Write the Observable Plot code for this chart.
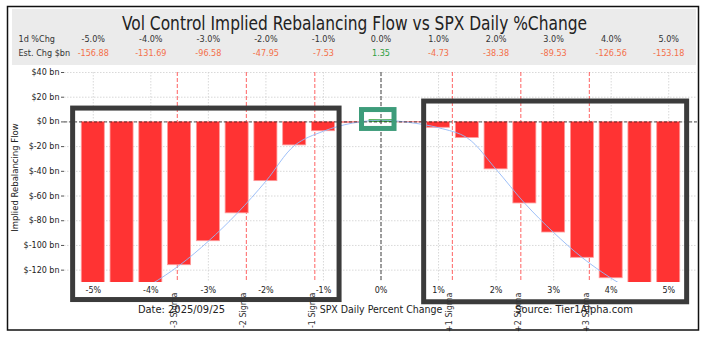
<!DOCTYPE html>
<html><head><meta charset="utf-8">
<script src="https://cdn.jsdelivr.net/npm/d3@7"></script>
<script src="https://cdn.jsdelivr.net/npm/@observablehq/plot@0.6"></script>
<style>body{margin:0;background:#fff}</style>
</head><body><div id="chart"></div>
<script>
// ---- data ----
const pctChange = [-5,-4.5,-4,-3.5,-3,-2.5,-2,-1.5,-1,-0.5,0,0.5,1,1.5,2,2.5,3,3.5,4,4.5,5];
const flowBn    = [-156.88,-145,-131.69,-116,-96.58,-74,-47.95,-19,-7.53,-1,1.35,-0.5,-4.73,-13,-38.38,-66,-89.53,-110,-126.56,-140,-153.18];
const headerPct = [-5,-4,-3,-2,-1,0,1,2,3,4,5];
const headerPctLabels = ["-5.0%","-4.0%","-3.0%","-2.0%","-1.0%","0.0%","1.0%","2.0%","3.0%","4.0%","5.0%"];
const headerFlow = [-156.88,-131.69,-96.58,-47.95,-7.53,1.35,-4.73,-38.38,-89.53,-126.56,-153.18];
const sigmaPos = [-3.54,-2.34,-1.15,1.24,2.43,3.62];
const sigmaLabels = ["-3 Sigma","-2 Sigma","-1 Sigma","+1 Sigma","+2 Sigma","+3 Sigma"];
const yTicks = [40,20,0,-20,-40,-60,-80,-100,-120];
const xTicks = [-5,-4,-3,-2,-1,0,1,2,3,4,5];
const highlightBoxes = [
  {x1:-5.35, x2:-0.72, y1:10.8, y2:-144.2},
  {x1:0.75,  x2:5.32,  y1:16.5, y2:-146}
];
const focusBox = [{x1:-0.33, x2:0.235, y1:9.6, y2:-5.7}];
const titleText = "Vol Control Implied Rebalancing Flow vs SPX Daily %Change";
const dateText = "Date: 2025/09/25";
const sourceText = "Source: Tier1Alpha.com";
const xLabel = "SPX Daily Percent Change";
const yLabel = "Implied Rebalancing Flow";

const data = pctChange.map((x, i) => ({x, y: flowBn[i]}));
const sq = "'DejaVu Sans Condensed', 'DejaVu Sans', sans-serif";

const plot = Plot.plot({
  width: 703, height: 337,
  marginTop: 72, marginBottom: 55, marginLeft: 64, marginRight: 6,
  style: {background: "transparent", fontFamily: "DejaVu Sans", fontSize: "8px", color: "#222", overflow: "visible"},
  x: {domain: [-5.5, 5.5], axis: null},
  y: {domain: [-130, 40], axis: null},
  marks: [
    Plot.ruleY(yTicks, {stroke: "#cfcfcf", strokeDasharray: "1.5,1.5", strokeWidth: 0.8}),
    Plot.ruleX(xTicks, {stroke: "#cfcfcf", strokeDasharray: "1.5,1.5", strokeWidth: 0.8}),
    Plot.ruleX(sigmaPos, {stroke: "#ff3b3b", strokeOpacity: 0.8, strokeDasharray: "4,2", strokeWidth: 1}),
    Plot.rectY(data, {x1: d => d.x - 0.2, x2: d => d.x + 0.2, y1: 0, y2: "y",
      fill: d => d.y >= 0 ? "#2ca02c" : "#ff3333",
      stroke: d => d.y >= 0 ? "#2ca02c" : "#ff9a9a", strokeWidth: 0.8, clip: true}),
    Plot.line(data, {x: "x", y: "y", stroke: "#93b9f7", strokeWidth: 0.9, curve: "catmull-rom", clip: true}),
    Plot.ruleY([0], {stroke: "#222", strokeDasharray: "3,2", strokeWidth: 0.8}),
    Plot.ruleX([0], {stroke: "#444", strokeDasharray: "4,2", strokeWidth: 1}),
    Plot.rect(highlightBoxes, {x1: "x1", x2: "x2", y1: "y1", y2: "y2", fill: "none", stroke: "#3b3b3b", strokeWidth: 5}),
    Plot.rect(focusBox, {x1: "x1", x2: "x2", y1: "y1", y2: "y2", fill: "none", stroke: "#3d9c7a", strokeWidth: 5}),
    Plot.axisY(yTicks, {tickFormat: d => `$${d} bn`, tickSize: 3, tickPadding: 2, label: null, fontSize: 8, stroke: "#555"}),
    Plot.axisX(xTicks, {tickFormat: d => `${d}%`, tickSize: 0, tickPadding: 5, label: null, fontSize: 8}),
    Plot.text([yLabel], {frameAnchor: "left", rotate: -90, textAnchor: "middle", dx: -49, fontSize: 8.5, fill: "#222"}),
    Plot.text(sigmaPos, {x: d => d, text: sigmaLabels, frameAnchor: "bottom", rotate: -90,
      textAnchor: "end", lineAnchor: "bottom", dy: 10, dx: 0, fontSize: 8, fill: "#333"}),
    // header table
    Plot.text([titleText], {frameAnchor: "top", dx: -26.5, dy: -49, lineAnchor: "middle", fontSize: 19, fill: "#222", fontFamily: sq, className: "ttl"}),
    Plot.text(["1d %Chg"], {frameAnchor: "top-left", dx: -46, dy: -33.5, textAnchor: "start", lineAnchor: "middle", fontSize: 9, fill: "#333", fontFamily: sq}),
    Plot.text(["Est. Chg $bn"], {frameAnchor: "top-left", dx: -46, dy: -19, textAnchor: "start", lineAnchor: "middle", fontSize: 9, fill: "#333", fontFamily: sq}),
    Plot.text(headerPct, {x: d => d, text: headerPctLabels, frameAnchor: "top", dy: -33.5, lineAnchor: "middle", fontSize: 9, fill: "#333", fontFamily: sq}),
    Plot.text(headerPct, {x: d => d, text: headerFlow.map(v => v.toFixed(2)), frameAnchor: "top", dy: -19, lineAnchor: "middle", fontSize: 9,
      fill: headerFlow.map(v => v >= 0 ? "#2e9e3e" : "#f4704a"), fontFamily: sq}),
    // footer
    Plot.text([dateText], {frameAnchor: "bottom", dx: -199.5, dy: 27, lineAnchor: "middle", fontSize: 11, fill: "#222", fontFamily: sq}),
    Plot.text([xLabel], {frameAnchor: "bottom", dx: 0, dy: 27, lineAnchor: "middle", fontSize: 10.5, fill: "#222", fontFamily: sq}),
    Plot.text([sourceText], {frameAnchor: "bottom", dx: 193, dy: 27, lineAnchor: "middle", fontSize: 11, fill: "#222", fontFamily: sq})
  ]
});

document.getElementById("chart").appendChild(plot);
const svg = d3.select(plot);
svg.insert("rect", ":first-child").attr("x", 12).attr("y", 9).attr("width", 684).attr("height", 56).attr("fill", "#ebebeb");
svg.insert("rect", ":first-child").attr("x", 0).attr("y", 0).attr("width", 703).attr("height", 337).attr("fill", "#fff");
svg.append("rect").attr("x", 7.5).attr("y", 6.5).attr("width", 691).attr("height", 323.5).attr("fill", "none").attr("stroke", "#111").attr("stroke-width", 1.5);
svg.selectAll(".ttl text").attr("textLength", 465).attr("lengthAdjust", "spacingAndGlyphs");
</script>
</body></html>
